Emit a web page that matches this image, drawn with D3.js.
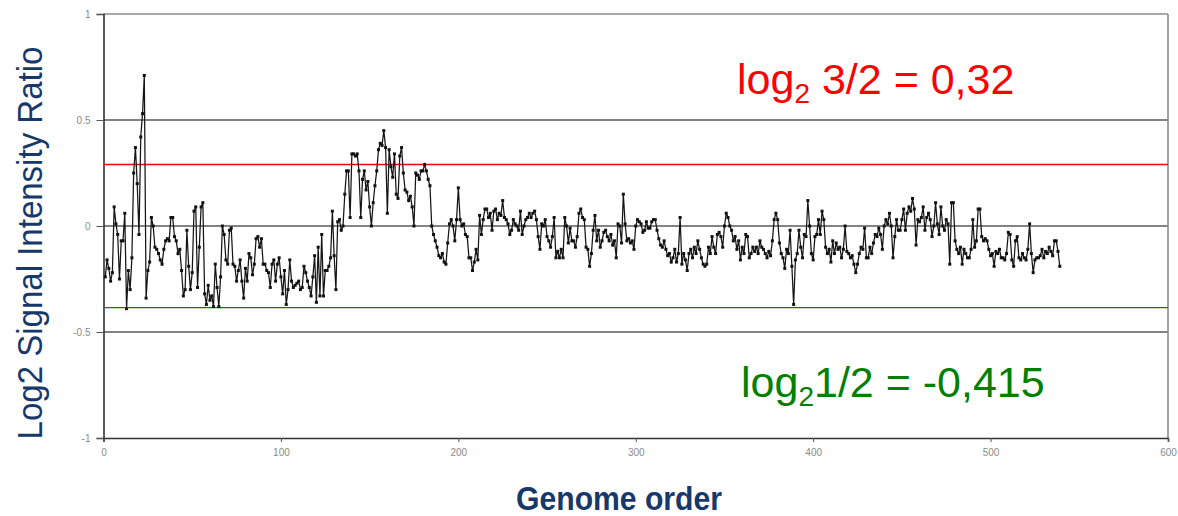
<!DOCTYPE html>
<html>
<head>
<meta charset="utf-8">
<script src="https://cdn.jsdelivr.net/npm/d3@7"></script>
<style>
  body { margin: 0; background: #fff; }
  svg { display: block; }
</style>
</head>
<body>
<svg width="1178" height="516"></svg>
<script>
// log2 ratio per clone, in genome order (x = 1, 2, 3 ...)
var ratio = [
  -0.24,-0.16,-0.2,-0.26,-0.22,0.09,0.01,-0.04,-0.25,-0.07,
  -0.07,0.06,-0.39,-0.21,-0.3,-0.15,0.25,0.37,0.2,-0.04,
  0.42,0.53,0.71,-0.34,-0.21,-0.17,0.04,0.0,-0.1,-0.11,
  -0.13,-0.16,-0.18,-0.11,-0.07,-0.06,-0.07,0.04,0.04,-0.05,
  -0.07,-0.13,-0.11,-0.21,-0.33,-0.3,-0.02,-0.19,-0.3,-0.22,
  0.07,0.09,-0.29,-0.1,0.09,0.11,-0.32,-0.37,-0.28,-0.35,
  // 60
  -0.33,-0.38,-0.18,-0.29,-0.38,-0.24,0.0,-0.04,-0.16,-0.18,
  -0.02,-0.01,-0.18,-0.19,-0.26,-0.21,-0.16,-0.26,-0.34,-0.2,
  -0.26,-0.13,-0.15,-0.23,-0.18,-0.06,-0.05,-0.1,-0.06,-0.18,
  -0.18,-0.21,-0.22,-0.29,-0.18,-0.16,-0.26,-0.18,-0.15,-0.24,
  -0.32,-0.21,-0.37,-0.3,-0.16,-0.26,-0.29,-0.28,-0.27,-0.26,
  -0.3,-0.29,-0.19,-0.22,-0.26,-0.29,-0.33,-0.24,
  -0.14,-0.36,-0.1,-0.33,-0.04,-0.33,-0.21,-0.21,-0.19,-0.15,
  0.07,-0.14,-0.3,0.02,0.03,-0.02,0.0,0.15,0.26,
  // gain region
  0.26,0.04,0.34,0.34,0.33,0.34,0.26,0.04,0.22,0.26,
  0.17,0.21,0.09,0.0,0.11,0.19,0.26,0.36,0.39,0.38,
  0.45,0.37,0.06,0.36,0.28,0.23,0.34,0.15,0.13,0.33,
  0.37,0.25,0.17,0.16,0.12,0.14,0.09,0.0,0.25,0.24,
  0.22,0.26,0.26,0.29,0.26,0.22,
  0.19,0.0,-0.04,-0.07,-0.1,-0.14,-0.15,-0.13,-0.17,-0.18,
  -0.08,0.01,0.03,0.0,-0.07,0.03,
  // ~200
  0.18,0.03,0.0,0.01,-0.04,-0.05,-0.15,-0.15,-0.21,-0.17,
  -0.11,-0.16,0.05,-0.04,0.03,0.08,0.08,0.04,0.06,-0.02,
  0.07,0.08,0.03,0.06,0.05,0.12,0.04,0.03,
  0.01,-0.04,-0.02,0.03,0.01,0.0,-0.02,0.07,-0.04,0.0,
  0.03,0.04,0.06,0.04,0.06,0.07,0.03,
  -0.05,-0.11,0.01,0.0,0.03,-0.05,-0.07,-0.1,-0.05,0.04,
  -0.15,-0.12,-0.15,-0.11,-0.15,0.04,0.0,-0.08,-0.01,
  -0.07,-0.07,-0.1,-0.05,0.06,0.08,0.04,0.03,-0.1,-0.11,
  -0.19,-0.13,-0.02,0.05,-0.07,-0.02,-0.1,
  // ~280
  -0.07,-0.03,-0.02,-0.05,-0.07,-0.04,-0.09,-0.07,-0.15,0.01,
  0.0,-0.08,0.15,0.01,-0.07,-0.06,-0.08,-0.07,-0.11,0.0,
  0.03,0.02,0.01,-0.03,-0.02,0.02,-0.01,
  -0.01,0.02,0.03,0.03,-0.02,-0.06,-0.09,-0.1,
  -0.07,-0.11,-0.14,-0.13,-0.17,-0.15,-0.11,-0.17,-0.13,0.04,
  -0.18,-0.13,-0.16,-0.21,-0.13,-0.11,-0.15,-0.1,-0.13,-0.07,
  -0.11,-0.15,-0.18,-0.19,-0.18,-0.1,-0.13,-0.05,-0.1,-0.13,
  -0.04,-0.03,-0.05,-0.1,0.0,0.06,0.04,0.0,-0.02,-0.07,
  -0.05,-0.11,-0.07,-0.16,-0.1,-0.13,-0.04,-0.05,
  -0.15,
  // ~365
  -0.13,-0.1,-0.12,-0.1,-0.13,-0.07,-0.1,-0.11,-0.13,-0.15,
  -0.12,-0.14,-0.07,0.03,0.06,0.03,-0.08,-0.13,-0.15,-0.2,
  -0.11,-0.13,-0.02,-0.19,-0.37,-0.16,-0.13,-0.02,-0.1,-0.15,
  -0.04,-0.05,0.12,0.0,-0.13,-0.16,-0.05,-0.04,0.03,-0.04,
  0.07,0.03,-0.1,-0.13,-0.11,-0.17,-0.07,-0.13,
  -0.08,-0.11,-0.1,-0.15,-0.11,0.0,-0.12,-0.13,
  -0.15,-0.14,-0.18,-0.22,-0.18,-0.13,-0.1,-0.11,-0.01,-0.15,
  -0.15,-0.1,-0.13,-0.08,-0.04,-0.05,-0.01,-0.04,
  -0.11,0.0,0.03,0.01,0.06,0.0,-0.15,-0.05,0.03,-0.02,
  // ~450
  -0.02,0.03,0.08,-0.02,0.06,0.09,0.07,0.13,0.08,-0.09,
  0.03,0.02,0.04,0.09,-0.02,0.04,0.06,0.03,
  -0.05,0.0,0.11,0.01,-0.04,0.09,0.0,-0.02,0.03,0.01,
  -0.18,0.11,0.11,-0.07,-0.11,-0.13,-0.1,-0.18,
  -0.11,-0.13,-0.15,-0.15,-0.11,0.03,-0.1,-0.07,0.08,0.08,
  -0.05,-0.07,-0.06,-0.07,-0.11,-0.14,-0.13,-0.19,-0.12,-0.13,
  -0.11,-0.15,-0.15,-0.16,-0.13,-0.03,-0.04,-0.16,-0.19,-0.07,
  -0.05,-0.15,-0.16,-0.13,-0.15,-0.16,-0.11,0.01,-0.13,-0.22,
  -0.16,-0.15,-0.15,-0.14,-0.11,-0.15,-0.12,-0.13,
  -0.1,-0.12,-0.14,-0.07,-0.07,-0.12,-0.19
];

var xTicks = [0, 100, 200, 300, 400, 500, 600];
var yTicks = [-1, -0.5, 0, 0.5, 1];
var yTickLabels = ["-1", "-0.5", "0", "0.5", "1"];
var gridValues = [-0.5, 0, 0.5];

// copy-number thresholds drawn as lines
var thresholds = [
  { value: 0.29, color: "#ff0000" },
  { value: -0.385, color: "#008000" }
];

var svg = d3.select("svg");
var blue = "#17386a";

var x = d3.scaleLinear().domain([0, 600]).range([103.5, 1168]);
var y = d3.scaleLinear().domain([-1, 1]).range([438, 14]);

var data = ratio.map(function(v, i) { return { pos: i + 1, val: v }; });

// grid lines + frame
svg.selectAll(".grid")
  .data(gridValues).enter()
  .append("line")
  .attr("x1", x(0)).attr("x2", x(600))
  .attr("y1", d => y(d)).attr("y2", d => y(d))
  .attr("stroke", "#5a5a5a")
  .attr("stroke-width", 1.6);

svg.append("line")
  .attr("x1", x(0)).attr("x2", x(600))
  .attr("y1", y(1)).attr("y2", y(1))
  .attr("stroke", "#8c8c8c").attr("stroke-width", 1.6);
svg.append("line")
  .attr("x1", x(600)).attr("x2", x(600))
  .attr("y1", y(1)).attr("y2", y(-1))
  .attr("stroke", "#8c8c8c").attr("stroke-width", 1.6);

// axes
var yAxis = svg.append("g")
  .attr("transform", "translate(" + x(0) + ",0)")
  .call(d3.axisLeft(y).tickValues(yTicks)
    .tickFormat((d, i) => yTickLabels[i]).tickSize(7).tickPadding(6));

var xAxis = svg.append("g")
  .attr("transform", "translate(0," + y(-1) + ")")
  .call(d3.axisBottom(x).tickValues(xTicks).tickFormat(d3.format("d")).tickSize(4).tickPadding(7));

[yAxis, xAxis].forEach(function(a) {
  a.select(".domain").attr("stroke", "#333").attr("stroke-width", 1.6);
  a.selectAll(".tick line").attr("stroke", "#555");
  a.selectAll(".tick text")
    .attr("fill", "#8a8a8a")
    .style("font-family", "Liberation Sans, Arial, sans-serif")
    .style("font-size", "10px");
});

// threshold lines
svg.selectAll(".thr")
  .data(thresholds).enter()
  .append("line")
  .attr("x1", x(0)).attr("x2", x(600))
  .attr("y1", d => y(d.value)).attr("y2", d => y(d.value))
  .attr("stroke", d => d.color)
  .attr("stroke-width", 1.3);

// the profile
var line = d3.line()
  .x(d => x(d.pos))
  .y(d => y(d.val));

svg.append("path")
  .datum(data)
  .attr("fill", "none")
  .attr("stroke", "#151515")
  .attr("stroke-width", 1.25)
  .attr("d", line);

svg.selectAll(".pt")
  .data(data).enter()
  .append("rect")
  .attr("x", d => x(d.pos) - 1.5)
  .attr("y", d => y(d.val) - 1.5)
  .attr("width", 3).attr("height", 3)
  .attr("fill", "#111");

// annotations
function ratioLabel(px, py, color, rest) {
  var t = svg.append("text")
    .attr("x", px).attr("y", py)
    .attr("fill", color)
    .style("font-family", "Liberation Sans, Arial, sans-serif")
    .style("font-size", "43px");
  t.append("tspan").text("log");
  t.append("tspan").attr("dy", 9).style("font-size", "28px").text("2");
  t.append("tspan").attr("dy", -9).text(rest);
}
ratioLabel(737, 94, "#ff0000", " 3/2 = 0,32");
ratioLabel(741, 397, "#008000", "1/2 = -0,415");

// axis titles: no narrow face installed, so squeeze a normal one to size
function squeezed(text, tx, ty, rot, size, weight, target) {
  var t = svg.append("text")
    .attr("text-anchor", "middle")
    .attr("fill", blue)
    .style("font-family", "Liberation Sans, Arial, sans-serif")
    .style("font-size", size + "px")
    .style("font-weight", weight)
    .text(text);
  var k = target / t.node().getComputedTextLength();
  t.attr("transform", "translate(" + tx + "," + ty + ") rotate(" + rot + ") scale(" + k + ",1)");
}
squeezed("Log2 Signal Intensity Ratio", 42, 243, -90, 36, "normal", 393);
squeezed("Genome order", 619, 510, 0, 34, "bold", 206);
</script>
</body>
</html>
